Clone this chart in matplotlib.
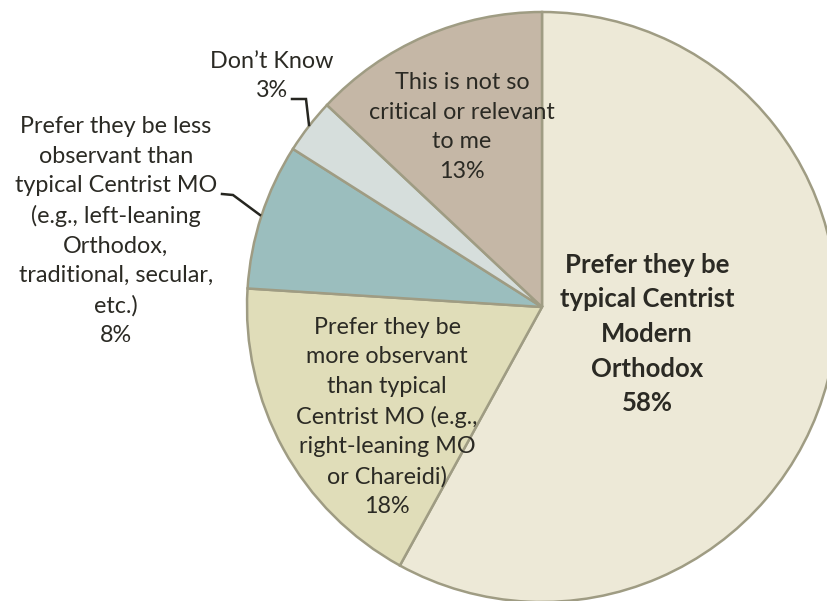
import matplotlib
matplotlib.use("Agg")
import matplotlib.pyplot as plt

# ---- data ----
categories = [
    "Prefer they be\ntypical Centrist\nModern\nOrthodox",
    "Prefer they be\nmore observant\nthan typical\nCentrist MO (e.g.,\nright-leaning MO\nor Chareidi)",
    "Prefer they be less\nobservant than\ntypical Centrist MO\n(e.g., left-leaning\nOrthodox,\ntraditional, secular,\netc.)",
    "Don\u2019t Know",
    "This is not so\ncritical or relevant\nto me",
]
values = [58, 18, 8, 3, 13]
colors = ["#EDE9D7", "#E0DDB9", "#9BBEBE", "#D6DEDC", "#C5B7A6"]

# ---- layout (pixel coordinates, y measured from top) ----
W, H = 827, 601
CX, CY, R = 542, 307, 295
label_pos = [(647, 334), (387, 417), (116, 231), (272, 76), (462, 127)]
label_bold = [True, False, False, False, False]

plt.rcParams['font.family'] = ['Lato', 'DejaVu Sans']
fig = plt.figure(figsize=(W / 100, H / 100), dpi=100)
ax = fig.add_axes([0, 0, 1, 1])
ax.pie(values, colors=colors, startangle=90, counterclock=False,
       center=(CX, H - CY), radius=R,
       wedgeprops=dict(edgecolor="#9F9C83", linewidth=1.8))
ax.set_xlim(0, W)
ax.set_ylim(0, H)
ax.set_aspect('equal')
ax.axis('off')

txt_color = "#2B2A24"
for cat, v, (x, y), b in zip(categories, values, label_pos, label_bold):
    s = f"{cat}\n{v}%"
    ax.text(x, H - y, s, ha='center', va='center', multialignment='center',
            fontsize=18.5 if b else 16.8, fontweight='bold' if b else 'normal',
            color=txt_color, linespacing=1.53 if b else 1.5)

# leader lines
ax.plot([222, 233, 260], [H - 194, H - 195, H - 215], color="#262620", lw=1.8,
        solid_joinstyle='miter')
ax.plot([292, 306, 309], [H - 99, H - 99, H - 125], color="#262620", lw=1.8,
        solid_joinstyle='miter')

fig.savefig("out.png", dpi=100, facecolor='white')
